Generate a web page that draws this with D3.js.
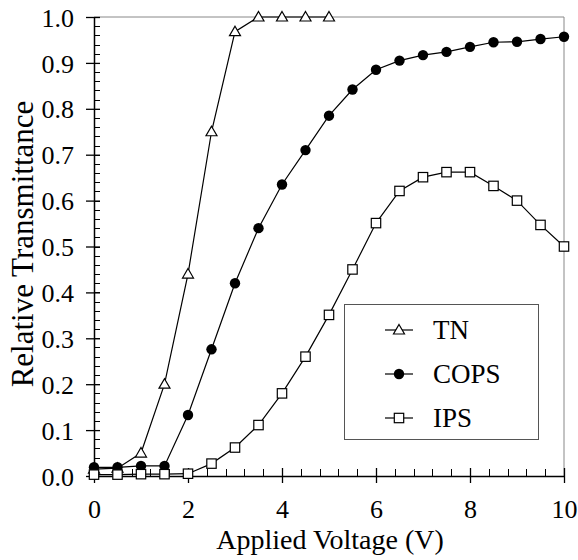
<!DOCTYPE html>
<html><head><meta charset="utf-8">
<script src="https://cdn.jsdelivr.net/npm/d3@7"></script>
<style>body{margin:0;background:#fff}svg{display:block}</style>
</head><body><svg id="c" width="578" height="560"></svg>
<script>
const voltage = [0,0.5,1,1.5,2,2.5,3,3.5,4,4.5,5,5.5,6,6.5,7,7.5,8,8.5,9,9.5,10];
const tnValues = [0.015,0.017,0.05,0.2,0.44,0.75,0.968,1.0,1.0,1.0,1.0];
const copsValues = [0.019,0.019,0.022,0.022,0.133,0.276,0.42,0.54,0.635,0.71,0.785,0.842,0.885,0.905,0.917,0.924,0.935,0.945,0.946,0.952,0.957];
const ipsValues = [0.003,0.003,0.004,0.004,0.005,0.027,0.062,0.111,0.18,0.26,0.351,0.45,0.551,0.621,0.651,0.662,0.662,0.632,0.6,0.547,0.5];
const xTicks = [0,2,4,6,8,10];
const yTicks = [0,0.1,0.2,0.3,0.4,0.5,0.6,0.7,0.8,0.9,1.0];
const seriesNames = ["TN","COPS","IPS"];

const FONT = "'Liberation Serif', 'Times New Roman', Times, serif";
const svg = d3.select("#c");
const L=94,R=564,T=17,B=476;
const x = d3.scaleLinear().domain([0,10]).range([L,R]);
const y = d3.scaleLinear().domain([0,1]).range([B,T]);

svg.append("line").attr("x1",L).attr("x2",R).attr("y1",T).attr("y2",T).attr("stroke","#888").attr("stroke-width",1);
svg.append("line").attr("x1",R).attr("x2",R).attr("y1",T).attr("y2",B).attr("stroke","#888").attr("stroke-width",1);

const yMinor = d3.range(0,1.0001,0.02);
svg.append("g").selectAll("line").data(yMinor).join("line")
  .attr("x1",L).attr("x2",L+6).attr("y1",d=>Math.round(y(d))+0.5).attr("y2",d=>Math.round(y(d))+0.5).attr("stroke","#000");
const xMinor = d3.range(0,10.0001,0.4);
svg.append("g").selectAll("line").data(xMinor).join("line")
  .attr("x1",d=>Math.round(x(d))+0.5).attr("x2",d=>Math.round(x(d))+0.5).attr("y1",B).attr("y2",B-7).attr("stroke","#000");

const yAxis = d3.axisLeft(y).tickValues(yTicks).tickFormat(d3.format(".1f")).tickSizeInner(8).tickSizeOuter(0).tickPadding(12);
const gy = svg.append("g").attr("transform",`translate(${L},0)`).call(yAxis);
gy.select(".domain").attr("stroke","#000").attr("stroke-width",1.5);
gy.selectAll(".tick line").attr("x2",6).attr("x1",-8).attr("stroke-width",1.3);
gy.selectAll("text").style("font-size","26px").style("font-family",FONT).attr("fill","#000").attr("dy","0.35em");

const xAxis = d3.axisBottom(x).tickValues(xTicks).tickSizeInner(7).tickSizeOuter(0).tickPadding(0);
const gx = svg.append("g").attr("transform",`translate(0,${B})`).call(xAxis);
gx.select(".domain").attr("stroke","#000").attr("stroke-width",1.5);
gx.selectAll(".tick line").attr("y1",-8).attr("y2",7).attr("stroke-width",1.3);
gx.selectAll("text").style("font-size","26px").style("font-family",FONT).attr("fill","#000").attr("dy",null).attr("y",42);

svg.append("text").attr("x",330).attr("y",549).attr("text-anchor","middle").style("font-size","28px").style("font-family",FONT).text("Applied Voltage (V)");
svg.append("text").attr("transform",`translate(33,244) rotate(-90)`).attr("text-anchor","middle").style("font-size","31px").style("font-family",FONT).text("Relative Transmittance");

const line = d3.line().x((d,i)=>x(voltage[i])).y(d=>y(d));
const allSeries=[tnValues,copsValues,ipsValues];
const plot = svg.append("g");
allSeries.forEach(s=>plot.append("path").attr("d",line(s)).attr("fill","none").attr("stroke","#000").attr("stroke-width",1.2));

function marker(g,type,cx,cy){
  if(type===0){
    g.append("path").attr("d",`M${cx},${cy-5.5}L${cx+5.5},${cy+4}L${cx-5.5},${cy+4}Z`).attr("fill","#fff").attr("stroke","#000").attr("stroke-width",1.2);
  } else if(type===1){
    g.append("circle").attr("cx",cx).attr("cy",cy).attr("r",5.2).attr("fill","#000");
  } else {
    g.append("rect").attr("x",cx-4.7).attr("y",cy-4.7).attr("width",9.4).attr("height",9.4).attr("fill","#fff").attr("stroke","#000").attr("stroke-width",1.2);
  }
}
allSeries.forEach((s,k)=>s.forEach((v,i)=>marker(plot,k,x(voltage[i]),y(v))));

const lg = svg.append("g");
lg.append("rect").attr("x",344.5).attr("y",304.5).attr("width",194).attr("height",135).attr("fill","#fff").attr("stroke","#555").attr("stroke-width",1);
const ly=[330,374,418];
seriesNames.forEach((n,k)=>{
  lg.append("line").attr("x1",385).attr("x2",413).attr("y1",ly[k]).attr("y2",ly[k]).attr("stroke","#000").attr("stroke-width",1.2);
  marker(lg,k,399,ly[k]);
  lg.append("text").attr("x",433).attr("y",ly[k]+9).style("font-size","27px").style("font-family",FONT).text(n);
});
</script></body></html>
